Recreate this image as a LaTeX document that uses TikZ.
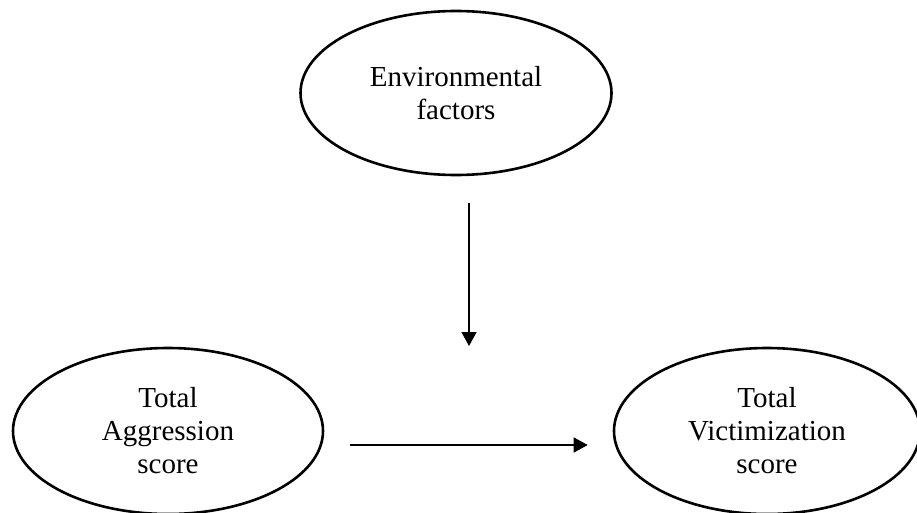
\documentclass[tikz,border=0pt]{standalone}
\usepackage{fontspec}
\setmainfont{Liberation Serif}
\usetikzlibrary{shapes.geometric,arrows.meta}
\begin{document}
\begin{tikzpicture}[x=1pt,y=-1pt,
  oval/.style={draw=black,line width=2.6pt,ellipse,inner sep=0pt,align=center,
    font=\fontsize{29}{33}\selectfont},
  link/.style={draw=black,line width=1.3pt,-{Triangle[length=14pt,width=15pt]}}]
\useasboundingbox (0,0) rectangle (917,512);
\node[oval,minimum width=311pt,minimum height=164pt] (env) at (456,93) {Environmental\\factors};
\node[oval,minimum width=310pt,minimum height=166pt] (agg) at (168,431) {Total\\Aggression\\score};
\node[oval,minimum width=306pt,minimum height=166pt] (vic) at (767,431) {Total\\Victimization\\score};
\coordinate (vs) at (469,203);
\coordinate (ve) at (469,346);
\draw[link] (vs) -- (ve);
\draw[link,shorten <=26pt,shorten >=25pt] (agg.east |- 0,445) -- (vic.west |- 0,445);
\end{tikzpicture}
\end{document}
